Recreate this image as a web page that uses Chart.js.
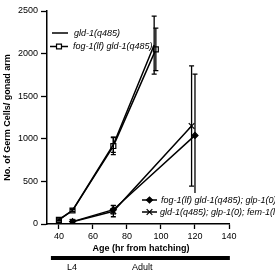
<!DOCTYPE html>
<html lang="en">
<head>
  <meta charset="UTF-8">
  <title>Germ cells per gonad arm</title>
  <script src="https://cdn.jsdelivr.net/npm/chart.js"></script>
  <style>
    html, body { margin: 0; padding: 0; background: #fff; }
  </style>
</head>
<body>
<canvas id="germChart" width="275" height="273"></canvas>

<script>
  // data (hours from hatching / germ cells per gonad arm)
  const hoursA = [40, 48, 72, 96];
  const gld1 = [50, 160, 930, 2100];
  const gld1Err = [10, 15, 90, 340];

  const hoursB = [40, 48, 72, 97];
  const fogGld1 = [48, 158, 915, 2050];
  const fogGld1Err = [10, 15, 100, 250];

  const hoursC = [48, 72, 120];
  const fogGlp1 = [28, 168, 1040];
  const fogGlp1Err = [8, 50, 720];

  const hoursD = [48, 72, 118];
  const gldGlpFem = [25, 150, 1150];
  const gldGlpFemErr = [8, 65, 705];

  const seriesNames = [
    'gld-1(q485)',
    'fog-1(lf) gld-1(q485)',
    'fog-1(lf) gld-1(q485); glp-1(0)',
    'gld-1(q485); glp-1(0); fem-1(lf)'
  ];
  const xTicks = [40, 60, 80, 100, 120, 140];
  const yTicks = [0, 500, 1000, 1500, 2000, 2500];
  const stageLabels = ['L4', 'Adult'];
  const stageHours = [47.7, 89];
  const stageSpan = [35.3, 140.5];

  const FONT = '"Liberation Sans", Arial, sans-serif';

  function toXY(xs, ys) {
    return xs.map((x, i) => ({ x: x, y: ys[i] }));
  }

  function series(label, xs, ys, err, pointStyle, radius, fill) {
    return {
      label: label,
      data: toXY(xs, ys),
      err: err,
      borderColor: '#000',
      borderWidth: 1.5,
      pointStyle: pointStyle,
      pointRadius: radius,
      pointBackgroundColor: fill,
      pointBorderColor: '#000',
      pointBorderWidth: 1.2,
      tension: 0,
      fill: false
    };
  }

  // vertical error bars with little caps
  const errorBars = {
    id: 'errorBars',
    afterDatasetsDraw(chart) {
      const ctx = chart.ctx;
      const ys = chart.scales.y;
      ctx.save();
      ctx.strokeStyle = '#000';
      ctx.lineWidth = 1.3;
      chart.data.datasets.forEach((ds, i) => {
        const meta = chart.getDatasetMeta(i);
        meta.data.forEach((pt, j) => {
          const v = ds.data[j].y, e = ds.err[j];
          const top = ys.getPixelForValue(v + e);
          const bot = ys.getPixelForValue(v - e);
          ctx.beginPath();
          ctx.moveTo(pt.x, top); ctx.lineTo(pt.x, bot);
          ctx.moveTo(pt.x - 2.5, top); ctx.lineTo(pt.x + 2.5, top);
          ctx.moveTo(pt.x - 2.5, bot); ctx.lineTo(pt.x + 2.5, bot);
          ctx.stroke();
        });
      });
      ctx.restore();
    }
  };

  // titles, stage bar and the two keys
  const extras = {
    id: 'extras',
    afterDraw(chart) {
      const ctx = chart.ctx;
      const area = chart.chartArea;
      const xs = chart.scales.x;
      ctx.save();
      ctx.fillStyle = '#000';
      ctx.strokeStyle = '#000';

      // y title
      ctx.font = 'bold 9px ' + FONT;
      ctx.textAlign = 'center';
      ctx.textBaseline = 'middle';
      ctx.save();
      ctx.translate(8, (area.top + area.bottom) / 2);
      ctx.rotate(-Math.PI / 2);
      ctx.fillText('No. of Germ Cells/ gonad arm', 0, 0);
      ctx.restore();

      // x title
      ctx.fillText('Age (hr from hatching)', 141, 249);

      // stage bar
      const b0 = xs.getPixelForValue(stageSpan[0]);
      const b1 = xs.getPixelForValue(stageSpan[1]);
      ctx.fillRect(b0, 256, b1 - b0, 4);
      ctx.font = '9px ' + FONT;
      stageLabels.forEach((s, i) => {
        ctx.fillText(s, xs.getPixelForValue(stageHours[i]), 268);
      });

      // white backing for the lower key
      ctx.fillStyle = '#fff';
      ctx.fillRect(140, 193, 135, 25);
      ctx.fillStyle = '#000';

      // keys
      const keys = [
        { ds: 0, x0: 52, x1: 68, y: 33, tx: 74 },
        { ds: 1, x0: 50, x1: 68, y: 46.5, tx: 73 },
        { ds: 2, x0: 142, x1: 157, y: 200, tx: 161 },
        { ds: 3, x0: 142, x1: 157, y: 212, tx: 160 }
      ];
      ctx.textAlign = 'left';
      keys.forEach(k => {
        const ds = chart.data.datasets[k.ds];
        ctx.lineWidth = 1.5;
        ctx.beginPath();
        ctx.moveTo(k.x0, k.y); ctx.lineTo(k.x1, k.y);
        ctx.stroke();
        if (ds.pointRadius > 0) {
          ctx.fillStyle = ds.pointBackgroundColor;
          ctx.lineWidth = 1.2;
          Chart.helpers.drawPoint(ctx, {
            pointStyle: ds.pointStyle, radius: ds.pointRadius,
            rotation: 0, borderWidth: 1.2
          }, (k.x0 + k.x1) / 2, k.y);
        }
        ctx.fillStyle = '#000';
        ctx.font = 'italic 9px ' + FONT;
        ctx.fillText(ds.label, k.tx, k.y);
      });
      ctx.restore();
    }
  };

  new Chart(document.getElementById('germChart'), {
    type: 'line',
    data: {
      datasets: [
        series(seriesNames[0], hoursA, gld1, gld1Err, 'circle', 0, '#000'),
        series(seriesNames[1], hoursB, fogGld1, fogGld1Err, 'rect', 3.5, '#fff'),
        series(seriesNames[2], hoursC, fogGlp1, fogGlp1Err, 'rectRot', 3, '#000'),
        series(seriesNames[3], hoursD, gldGlpFem, gldGlpFemErr, 'crossRot', 4, '#000')
      ]
    },
    options: {
      responsive: false,
      animation: false,
      devicePixelRatio: 1,
      layout: { padding: { top: 11, right: 46, bottom: 0, left: 0 } },
      plugins: { legend: { display: false }, tooltip: { enabled: false } },
      scales: {
        x: {
          type: 'linear',
          min: 33,
          max: 140,
          afterBuildTicks: s => { s.ticks = xTicks.map(v => ({ value: v })); },
          afterFit: s => { s.height = 49; },
          grid: { drawOnChartArea: false, drawTicks: true, tickLength: 5, color: '#000', tickWidth: 1.3 },
          border: { color: '#000', width: 1.5 },
          ticks: { color: '#000', font: { size: 9, family: FONT }, padding: 2, maxRotation: 0, autoSkip: false,
                   callback: v => String(v) }
        },
        y: {
          min: 0,
          max: 2500,
          afterBuildTicks: s => { s.ticks = yTicks.map(v => ({ value: v })); },
          afterFit: s => { s.width = 47; },
          grid: { drawOnChartArea: false, drawTicks: true, tickLength: 6, color: '#000', tickWidth: 1.3 },
          border: { color: '#000', width: 1.5 },
          ticks: { color: '#000', font: { size: 9, family: FONT }, padding: 3, autoSkip: false,
                   callback: v => String(v) }
        }
      }
    },
    plugins: [errorBars, extras]
  });
</script>
</body>
</html>
